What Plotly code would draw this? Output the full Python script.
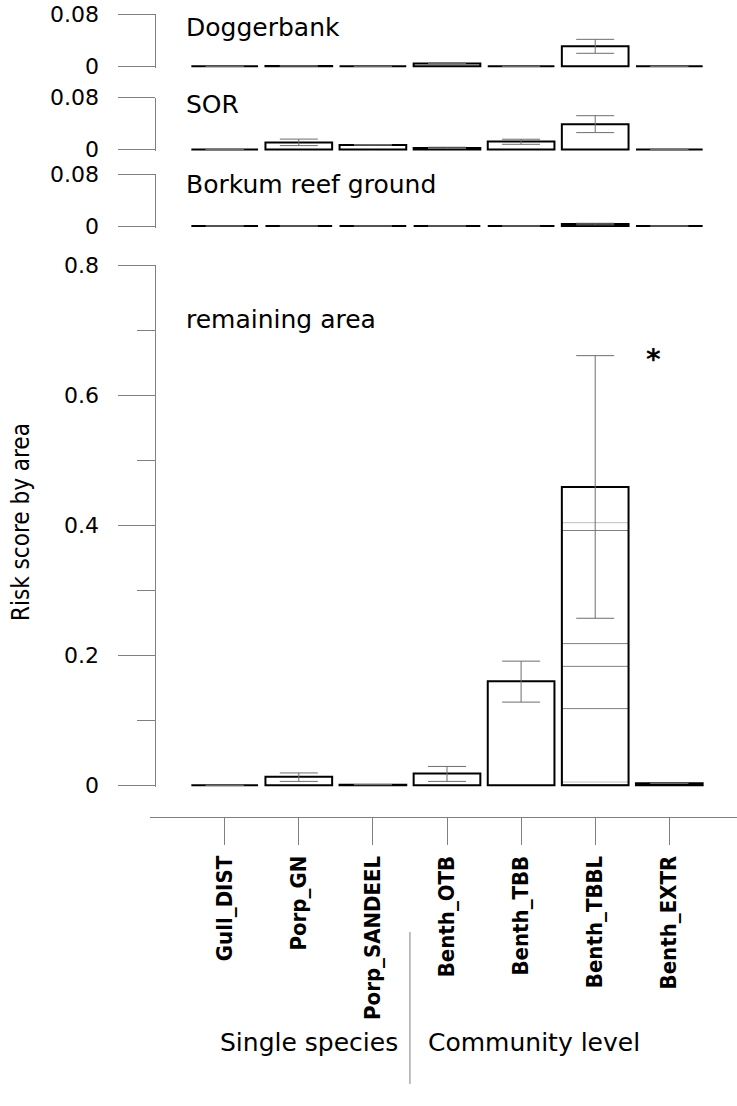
import plotly.graph_objects as go

# ---------------- data ----------------
categories = ["Gull_DIST", "Porp_GN", "Porp_SANDEEL", "Benth_OTB",
              "Benth_TBB", "Benth_TBBL", "Benth_EXTR"]

panel_names = ["Doggerbank", "SOR", "Borkum reef ground", "remaining area"]

dogger_val = [0.0, 0.0005, 0.0, 0.0045, 0.0, 0.031, 0.0]
dogger_hi = [None, None, None, 0.0049, None, 0.0415, None]
dogger_lo = [None, None, None, 0.0041, None, 0.020, None]

sor_val = [0.0, 0.0108, 0.0071, 0.0025, 0.0123, 0.039, 0.0]
sor_hi = [None, 0.016, 0.0076, 0.0035, 0.0158, 0.052, None]
sor_lo = [None, 0.006, 0.0066, 0.0015, 0.008, 0.026, None]

borkum_val = [0.0, 0.0, 0.0, 0.0, 0.0, 0.003, 0.0]
borkum_hi = [None, None, None, None, None, 0.0042, None]
borkum_lo = [None, None, None, None, None, 0.0018, None]

rest_val = [0.0, 0.0132, 0.001, 0.018, 0.160, 0.459, 0.003]
rest_hi = [None, 0.019, None, 0.029, 0.191, 0.661, None]
rest_lo = [None, 0.006, None, 0.006, 0.128, 0.257, None]

# horizontal levels drawn inside the Benth_TBBL bar (remaining area)
tbbl_levels = [0.005, 0.118, 0.183, 0.218, 0.392, 0.404]
tbbl_level_colors = ["#bdbdbd", "#808080", "#808080", "#808080", "#808080", "#bdbdbd"]

main_ticks = [0, 0.2, 0.4, 0.6, 0.8]
main_minor = [0.1, 0.3, 0.5, 0.7]
top_ticks = [0, 0.08]

group_labels = ["Single species", "Community level"]
star_label = "*"
y_title = "Risk score by area"

# ---------------- layout geometry (reference-page pixels) ----------------
W, H = 737, 1106
OFF = 0.0            # page body margin is removed in the html page
PX_PER_UNIT = 650.0
EXT = 0.003
YAX_X = 155.3
X_LEFT = 150.0
XAX_Y = 817.0
CAT0_PX = 224.7
CAT_STEP = 74.1
GRAY = "#808080"


def fy(px):
    return 1 - (px - OFF) / H


def fx(px):
    return (px - OFF) / W


panels = [
    # (name, values, hi, lo, zero_px, ymax, ticks, title_px)
    (panel_names[0], dogger_val, dogger_hi, dogger_lo, 66.3, 0.08, top_ticks, 27),
    (panel_names[1], sor_val, sor_hi, sor_lo, 149.5, 0.08, top_ticks, 104.5),
    (panel_names[2], borkum_val, borkum_hi, borkum_lo, 226.0, 0.08, top_ticks, 185),
    (panel_names[3], rest_val, rest_hi, rest_lo, 785.3, 0.8, main_ticks, 320),
]

fig = go.Figure()

axis_ids = ["y2", "y3", "y4", "y"]
layout_updates = {}
annotations = []

for (name, vals, hi, lo, zero_px, ymax, ticks, title_px), yid in zip(panels, axis_ids):
    plus = [None if h is None else h - v for h, v in zip(hi, vals)]
    minus = [None if l is None else v - l for l, v in zip(lo, vals)]

    if yid == "y":
        fig.add_trace(go.Bar(
            x=["Benth_TBBL"] * len(tbbl_levels), y=tbbl_levels, yaxis=yid, xaxis="x",
            width=0.9,
            marker=dict(color="rgba(0,0,0,0)",
                        line=dict(color=tbbl_level_colors, width=1)),
            hoverinfo="skip",
        ))

    fig.add_trace(go.Bar(
        x=categories, y=vals, yaxis=yid, xaxis="x", width=0.9,
        marker=dict(color="rgba(0,0,0,0)", line=dict(color="black", width=2)),
        error_y=dict(type="data", symmetric=False, array=plus, arrayminus=minus,
                     color="#6e6e6e", thickness=1, width=19),
        name=name,
    ))

    top_px = zero_px - ymax * PX_PER_UNIT
    bot_px = zero_px + EXT * PX_PER_UNIT
    ax = dict(
        domain=[fy(bot_px), fy(top_px)],
        range=[-EXT, ymax],
        anchor="free", position=fx(YAX_X), automargin=False,
        showline=True, linecolor=GRAY, linewidth=1,
        ticks="outside", ticklen=37, tickcolor=GRAY, tickwidth=1,
        tickvals=ticks, ticktext=[("%g" % t) for t in ticks],
        tickfont=dict(family="DejaVu Sans", size=22, color="black"),
        ticklabelstandoff=15, ticklabeloverflow="allow",
        showgrid=False, zeroline=False, fixedrange=True,
    )
    if yid == "y":
        ax["minor"] = dict(tickvals=main_minor, ticks="outside", ticklen=18,
                           tickcolor=GRAY, tickwidth=1, showgrid=False)
    key = "yaxis" if yid == "y" else "yaxis" + yid[1:]
    layout_updates[key] = ax

    annotations.append(dict(
        text=name, xref="paper", yref="paper", x=fx(184), y=fy(title_px),
        xanchor="left", yanchor="middle", showarrow=False,
        font=dict(family="DejaVu Sans", size=25, color="black"),
    ))

x_lo = (X_LEFT - CAT0_PX) / CAT_STEP
x_hi = (W + OFF - CAT0_PX) / CAT_STEP

layout_updates["xaxis"] = dict(
    domain=[fx(X_LEFT), 1], range=[x_lo, x_hi],
    type="category", categoryorder="array", categoryarray=categories,
    anchor="free", position=fy(XAX_Y), automargin=False,
    showline=True, linecolor=GRAY, linewidth=1,
    ticks="outside", ticklen=27, tickcolor=GRAY, tickwidth=1,
    tickangle=-90, ticklabelstandoff=2,
    tickfont=dict(family="DejaVu Sans Condensed, DejaVu Sans", size=22,
                  color="black", weight="bold"),
    showgrid=False, zeroline=False, fixedrange=True,
)

# asterisk
annotations.append(dict(
    text=star_label, xref="x", yref="y", x=5.79, y=rest_hi[5],
    xanchor="center", yanchor="middle", yshift=-4, showarrow=False,
    font=dict(family="DejaVu Sans", size=28, color="black", weight="bold"),
))

# group labels
annotations.append(dict(
    text=group_labels[0], xref="x", yref="paper", x=2.5, xshift=-10, y=fy(1042),
    xanchor="right", yanchor="middle", showarrow=False,
    font=dict(family="DejaVu Sans", size=25, color="black"),
))
annotations.append(dict(
    text=group_labels[1], xref="x", yref="paper", x=2.5, xshift=16, y=fy(1042),
    xanchor="left", yanchor="middle", showarrow=False,
    font=dict(family="DejaVu Sans", size=25, color="black"),
))

# y title
annotations.append(dict(
    text=y_title, xref="paper", yref="paper", x=fx(21), y=fy(522),
    xanchor="center", yanchor="middle", textangle=-90, showarrow=False,
    font=dict(family="Liberation Sans Narrow, DejaVu Sans Condensed", size=24, color="black"),
))

shapes = [dict(
    type="line", xref="x", yref="paper", x0=2.5, x1=2.5, y0=fy(932), y1=fy(1084),
    line=dict(color=GRAY, width=1),
)]

fig.update_layout(
    width=W, height=H, margin=dict(l=0, r=0, t=0, b=0),
    paper_bgcolor="white", plot_bgcolor="white",
    barmode="overlay", showlegend=False, hovermode=False,
    annotations=annotations, shapes=shapes,
    **layout_updates,
)

fig.write_html("out.html",
               config={"displayModeBar": False, "staticPlot": True},
               post_script="document.body.style.margin='0';"
                           "document.body.style.overflow='hidden';")
